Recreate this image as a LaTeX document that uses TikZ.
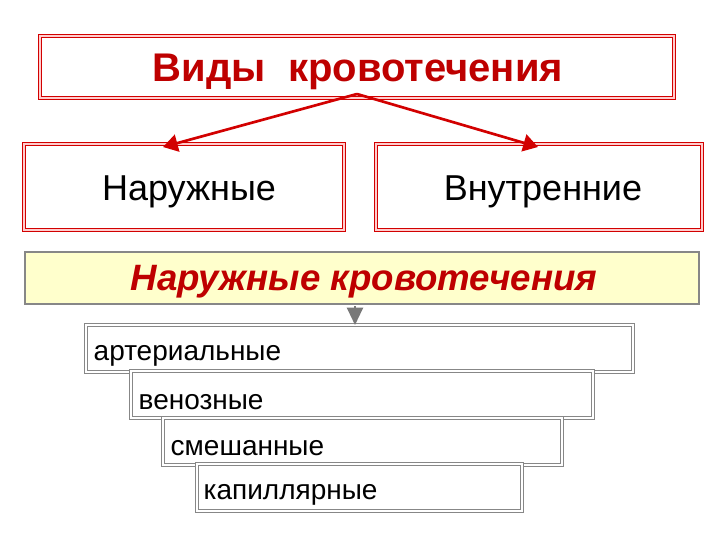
\documentclass[tikz,border=0pt]{standalone}
\usepackage{fontspec}
\setmainfont{Liberation Sans}
\usetikzlibrary{arrows.meta}
\definecolor{dred}{RGB}{210,0,0}
\definecolor{tred}{RGB}{190,0,0}
\definecolor{pgap}{RGB}{255,205,205}
\definecolor{lyel}{RGB}{255,255,204}
\definecolor{bgray}{RGB}{135,135,135}
\definecolor{agray}{RGB}{120,120,120}
\tikzset{
  redbox/.style={draw=dred, line width=1.4pt, double=pgap, double distance=0.9pt, fill=white, inner sep=0pt},
  graybox/.style={draw=bgray, line width=1.3pt, double=white, double distance=1.0pt, fill=white, inner sep=0pt},
  yelbox/.style={draw=bgray, line width=1.8pt, fill=lyel, inner sep=0pt},
  item/.style={font=\fontsize{21}{24}\selectfont, anchor=west},
  redarrow/.style={draw=dred, line width=2pt, -{Triangle[length=11pt,width=13pt]}},
  grayarrow/.style={draw=agray, line width=1.6pt, -{Triangle[length=13pt,width=12pt]}},
}
\begin{document}
\begin{tikzpicture}[x=0.75pt,y=-0.75pt]
\useasboundingbox (0,0) rectangle (720,540);
% title
\draw[redbox] (40,36) rectangle (674,98);
\node (title) at (358,72) {\fontsize{30}{33}\selectfont\bfseries\color{tred}Виды\ \ кровотечения};
\coordinate (tb) at (357,94);
% second level
\draw[redbox] (24,144) rectangle (344,230);
\node (nar) at (189,192) {\fontsize{27}{30}\selectfont Наружные};
\coordinate (narT) at (163,147);
\draw[redbox] (376,144) rectangle (702,230);
\node (vnu) at (543,192) {\fontsize{27}{30}\selectfont Внутренние};
\coordinate (vnuT) at (538,147);
\draw[redarrow] (tb) -- (narT);
\draw[redarrow] (tb) -- (vnuT);
% yellow band
\draw[yelbox] (25,252) rectangle (699,304);
\node (nk) at (364,282) {\fontsize{27.5}{30}\selectfont\bfseries\itshape\color{tred}Наружные кровотечения};
% list
\draw[graybox] (86,325) rectangle (633,372);
\node[item] (art) at (89,356) {артериальные};
\draw[graybox] (131,371) rectangle (593,418);
\node[item] (ven) at (134,402) {венозные};
\draw[graybox] (163,418) rectangle (562,465);
\node[item] (sme) at (166,448) {смешанные};
\draw[graybox] (197,464) rectangle (522,511);
\node[item] (kap) at (199,495) {капиллярные};
\coordinate (nkb) at (355,306);
\coordinate (artT) at (355,325);
\draw[grayarrow] (nkb) -- (artT);
\end{tikzpicture}
\end{document}
